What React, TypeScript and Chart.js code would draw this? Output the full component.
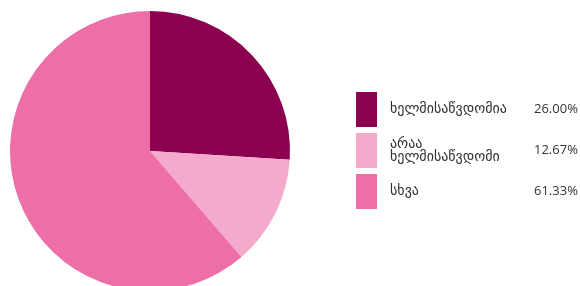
import React, { useEffect, useRef } from "react";
import { Chart, registerables } from "chart.js";

Chart.register(...registerables);

const labels: string[][] = [["ხელმისაწვდომია"], ["არაა", "ხელმისაწვდომი"], ["სხვა"]];
const values: number[] = [26.0, 12.67, 61.33];
const percentLabels: string[] = ["26.00%", "12.67%", "61.33%"];
const colors: string[] = ["#8c0050", "#f3aacb", "#ee6fa8"];

const legendPlugin = {
  id: "sideLegend",
  afterDraw(chart: any) {
    const ctx = chart.ctx;
    const boxX = 356;
    const boxW = 21;
    const boxH = 35;
    const gap = 6;
    const startY = 92;
    ctx.save();
    labels.forEach((lines, i) => {
      const y = startY + i * (boxH + gap);
      ctx.fillStyle = colors[i];
      ctx.fillRect(boxX, y, boxW, boxH);
      const cy = y + boxH / 2;
      ctx.fillStyle = "#333333";
      ctx.textBaseline = "middle";
      ctx.textAlign = "left";
      ctx.font = "14px 'DejaVu Sans'";
      const lh = 13;
      const top = cy - ((lines.length - 1) * lh) / 2;
      lines.forEach((t, j) => ctx.fillText(t, 390, top + j * lh));
      ctx.font = "13px 'Open Sans'";
      ctx.fillText(percentLabels[i], 534, cy);
    });
    ctx.restore();
  },
};

export default function App() {
  const ref = useRef<HTMLCanvasElement>(null);
  useEffect(() => {
    if (!ref.current) return;
    const chart = new Chart(ref.current, {
      type: "pie",
      data: {
        labels: labels.map((l) => l.join(" ")),
        datasets: [
          {
            data: values,
            backgroundColor: colors,
            borderWidth: 0,
          },
        ],
      },
      options: {
        animation: false,
        responsive: false,
        layout: { padding: { left: 10, right: 290, top: 11, bottom: 11 } },
        plugins: { legend: { display: false }, tooltip: { enabled: false } },
      },
      plugins: [legendPlugin],
    });
    return () => chart.destroy();
  }, []);
  return (
    <div style={{ position: "fixed", left: 0, top: 0, width: 580, height: 286, overflow: "hidden", background: "#fff" }}>
      <canvas ref={ref} width={580} height={302} style={{ display: "block" }} />
    </div>
  );
}
